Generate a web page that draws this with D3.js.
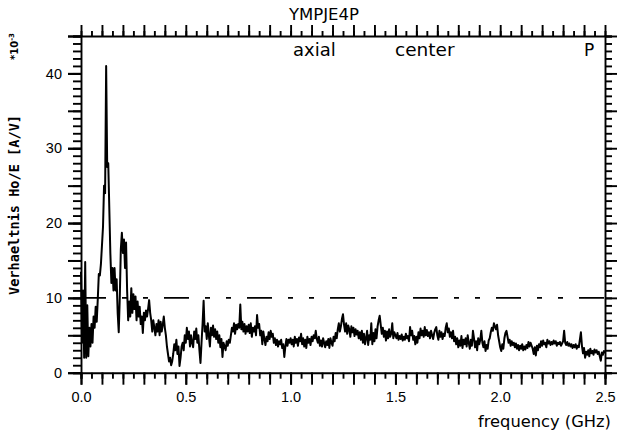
<!DOCTYPE html>
<html><head><meta charset="utf-8">
<script src="https://cdn.jsdelivr.net/npm/d3@7"></script>
<style>
html,body{margin:0;padding:0;background:#fff;}
svg{display:block;}
</style></head>
<body>
<svg id="chart" width="624" height="433"></svg>
<script>
// ---- data ----
const title = "YMPJE4P";
const annotations = ["axial", "center", "P"];
const xLabel = "frequency (GHz)";
const yLabel = "Verhaeltnis Ho/E [A/V]";
const yScaleNote = "*10";
const yScaleExp = "-3";
const xTickLabels = [0.0, 0.5, 1.0, 1.5, 2.0, 2.5];
const yTickLabels = [0, 10, 20, 30, 40];
const xDomain = [0, 2.5];
const yDomain = [0, 45];
const refLevel = 10;
const freqStart = 0.0;
const freqStep = 0.005; // GHz between samples
// Ho/E ratio (x10^-3 A/V), one value per 0.005 GHz, 0.000 .. 2.500
const ratio = [
 13.5, 4.0, 11.0, 2.0, 14.8, 2.0, 9.0, 2.2, 6.0, 3.5, 6.5, 4.0, 7.5, 6.0, 8.8, 6.8, 9.8, 13.2, 13.0, 14.5,
 17.0, 19.5, 25.0, 24.0, 41.0, 27.5, 28.0, 22.0, 16.0, 12.0, 14.0, 11.0, 14.0, 11.0, 12.5, 8.0, 5.4, 10.0, 16.5, 18.7,
 16.0, 17.8, 14.0, 17.4, 11.0, 7.0, 9.5, 7.5, 11.3, 8.0, 10.5, 8.5, 10.2, 7.0, 9.5, 7.5, 8.8, 6.5, 7.5, 5.3,
 8.0, 7.0, 8.3, 7.5, 8.5, 9.7, 8.0, 7.0, 5.5, 7.0, 6.0, 5.0, 6.5, 5.5, 7.0, 5.0, 6.8, 5.5, 6.4, 7.5,
 6.0, 5.0, 3.5, 2.5, 1.5, 2.0, 1.0, 1.5, 2.5, 3.8, 3.0, 4.4, 2.5, 3.5, 0.9, 2.0, 3.5, 4.0, 3.0, 5.0,
 4.0, 6.0, 4.5, 5.5, 3.5, 5.0, 4.0, 3.4, 5.5, 4.5, 5.9, 4.0, 5.0, 3.0, 1.3, 4.0, 6.5, 9.6, 5.5, 6.2,
 4.5, 6.6, 5.0, 3.5, 6.0, 5.0, 6.3, 4.8, 5.8, 4.5, 5.5, 4.0, 5.0, 3.4, 4.5, 2.1, 4.0, 3.5, 3.0, 4.2,
 3.6, 4.4, 4.0, 5.0, 6.0, 5.5, 6.6, 5.2, 6.4, 5.8, 6.5, 6.0, 9.1, 5.8, 6.8, 5.5, 6.5, 5.2, 6.2, 5.5,
 6.4, 5.3, 6.6, 4.8, 6.0, 5.5, 6.2, 5.0, 7.7, 6.0, 6.5, 5.0, 5.6, 3.8, 5.5, 4.5, 3.7, 4.8, 4.2, 5.4,
 4.5, 5.6, 4.8, 5.2, 4.0, 4.6, 3.7, 4.4, 3.5, 4.2, 3.8, 4.4, 3.3, 3.8, 2.1, 3.5, 4.5, 3.6, 4.4, 4.0,
 4.6, 3.8, 4.4, 3.5, 4.8, 4.0, 4.5, 3.6, 4.7, 4.2, 5.2, 3.8, 4.6, 3.5, 4.4, 3.3, 4.8, 4.0, 4.5, 3.7,
 4.8, 4.2, 5.0, 4.6, 5.6, 4.5, 4.0, 4.8, 3.6, 4.3, 3.5, 4.6, 4.0, 3.4, 4.2, 3.7, 4.5, 3.3, 4.6, 4.0,
 3.6, 4.8, 4.2, 5.3, 4.6, 5.8, 6.6, 5.5, 6.2, 7.2, 7.8, 6.4, 5.5, 6.6, 5.2, 6.3, 5.8, 4.8, 6.2, 5.4,
 6.0, 4.9, 5.8, 5.1, 5.6, 4.6, 5.4, 4.4, 5.6, 4.0, 5.2, 3.8, 4.6, 5.6, 3.7, 5.0, 4.4, 6.6, 3.8, 5.3,
 4.2, 5.8, 4.6, 6.2, 7.0, 7.6, 6.4, 5.2, 6.0, 4.8, 5.6, 4.3, 5.5, 4.6, 5.8, 4.8, 5.2, 6.6, 4.6, 5.4,
 5.0, 4.6, 5.3, 4.4, 4.9, 4.5, 5.1, 4.3, 4.8, 4.4, 5.2, 4.6, 4.9, 4.2, 6.1, 5.0, 5.6, 4.4, 4.9, 3.8,
 4.8, 4.0, 5.4, 4.6, 5.9, 5.0, 5.6, 4.8, 6.1, 5.0, 5.7, 4.9, 5.4, 4.6, 5.6, 5.0, 4.5, 5.3, 5.8, 6.1,
 5.0, 4.4, 5.6, 4.8, 5.4, 4.5, 5.2, 4.9, 6.0, 6.6, 5.4, 5.9, 4.8, 5.4, 4.6, 5.6, 4.2, 4.8, 3.8, 4.6,
 3.4, 4.3, 3.6, 4.9, 3.3, 4.4, 3.8, 4.6, 3.5, 5.0, 4.0, 3.2, 4.4, 3.6, 5.6, 4.6, 3.4, 4.2, 3.0, 4.6,
 3.8, 4.4, 5.6, 4.0, 3.4, 4.2, 2.9, 3.7, 3.2, 4.3, 4.6, 5.4, 6.0, 5.6, 6.6, 6.2, 5.8, 6.4, 5.0, 4.2,
 3.4, 2.9, 3.8, 3.2, 4.6, 5.3, 5.6, 4.8, 4.0, 4.4, 3.6, 4.2, 3.7, 4.0, 3.4, 3.9, 3.2, 3.7, 3.0, 3.6,
 3.2, 3.8, 3.0, 3.5, 3.1, 3.7, 3.3, 4.1, 3.5, 4.0, 3.6, 3.2, 2.5, 3.4, 2.3, 3.6, 3.0, 3.8, 3.4, 4.2,
 3.6, 4.3, 3.8, 4.0, 3.4, 4.4, 3.9, 4.2, 3.7, 4.1, 3.8, 4.3, 3.9, 4.2, 3.6, 4.0, 3.8, 4.1, 3.6, 3.9,
 4.2, 5.6, 4.0, 3.7, 4.1, 3.6, 3.9, 3.5, 3.8, 3.3, 3.7, 3.4, 3.8, 3.2, 3.6, 3.4, 4.4, 5.4, 3.6, 2.6,
 3.3, 2.0, 2.8, 2.4, 3.0, 2.2, 3.2, 2.6, 2.9, 2.4, 3.1, 2.7, 3.0, 2.5, 2.8, 2.2, 1.6, 2.7, 2.4, 2.9,
 2.6
];

// ---- drawing ----
const svg = d3.select("#chart");
const x = d3.scaleLinear().domain(xDomain).range([81, 605]);
const y = d3.scaleLinear().domain(yDomain).range([372.7, 36]);
const ink = "#000";
const tickFont = "'Liberation Sans', Arial, sans-serif";
const wideFont = "'DejaVu Sans', sans-serif";
const axisW = 1.9;

function styleAxis(g, w) {
  g.select(".domain").attr("stroke", ink).attr("stroke-width", w);
  g.selectAll(".tick line").attr("stroke", ink).attr("stroke-width", w);
}

// tick positions
const xMinor = d3.range(0, 2.5001, 0.05).map(v => +v.toFixed(3));
const xMajor = d3.range(0, 2.5001, 0.1).map(v => +v.toFixed(3));
const yMinor = d3.range(0, 45.001, 1);
const yMajor = d3.range(0, 45.001, 5);

// bottom axis
svg.append("g").attr("transform", `translate(0,${y(0)})`)
  .call(d3.axisBottom(x).tickValues(xMinor).tickSize(6).tickFormat(""))
  .call(g => styleAxis(g, axisW));
svg.append("g").attr("transform", `translate(0,${y(0)})`)
  .call(d3.axisBottom(x).tickValues(xMajor).tickSize(12).tickFormat(""))
  .call(g => { g.select(".domain").remove(); g.selectAll(".tick line").attr("stroke", ink).attr("stroke-width", axisW); });
svg.append("g").attr("transform", `translate(0,${y(0)})`)
  .call(d3.axisBottom(x).tickValues(xTickLabels).tickSize(12).tickPadding(7).tickFormat(d3.format(".1f")))
  .call(g => { g.select(".domain").remove(); g.selectAll(".tick line").attr("stroke", ink).attr("stroke-width", axisW);
    g.selectAll("text").attr("fill", ink).attr("font-family", tickFont).attr("font-size", 14.5); });

// top axis
svg.append("g").attr("transform", `translate(0,${y(45)})`)
  .call(d3.axisTop(x).tickValues(xMinor).tickSize(5).tickFormat(""))
  .call(g => { styleAxis(g, axisW); g.select(".domain").attr("d", `M68,0.5H${x(2.5)}`); });
svg.append("g").attr("transform", `translate(0,${y(45)})`)
  .call(d3.axisTop(x).tickValues(xMajor).tickSize(11).tickFormat(""))
  .call(g => { g.select(".domain").remove(); g.selectAll(".tick line").attr("stroke", ink).attr("stroke-width", axisW); });

// left axis
svg.append("g").attr("transform", `translate(${x(0)},0)`)
  .call(d3.axisLeft(y).tickValues(yMinor).tickSize(8).tickFormat(""))
  .call(g => styleAxis(g, axisW));
svg.append("g").attr("transform", `translate(${x(0)},0)`)
  .call(d3.axisLeft(y).tickValues(yMajor).tickSize(13).tickFormat(""))
  .call(g => { g.select(".domain").remove(); g.selectAll(".tick line").attr("stroke", ink).attr("stroke-width", 2); });
svg.append("g").attr("transform", `translate(${x(0)},0)`)
  .call(d3.axisLeft(y).tickValues(yTickLabels).tickSize(13).tickPadding(6).tickFormat(d3.format("d")))
  .call(g => { g.select(".domain").remove(); g.selectAll(".tick line").attr("stroke", ink).attr("stroke-width", 2);
    g.selectAll("text").attr("fill", ink).attr("font-family", tickFont).attr("font-size", 14.5); });

// right axis
svg.append("g").attr("transform", `translate(${x(2.5)},0)`)
  .call(d3.axisRight(y).tickValues(yMinor).tickSize(7).tickFormat(""))
  .call(g => styleAxis(g, axisW));
svg.append("g").attr("transform", `translate(${x(2.5)},0)`)
  .call(d3.axisRight(y).tickValues(yMajor).tickSize(12).tickFormat(""))
  .call(g => { g.select(".domain").remove(); g.selectAll(".tick line").attr("stroke", ink).attr("stroke-width", axisW); });

// reference level dash-dot line
svg.append("line")
  .attr("x1", x(xDomain[0])).attr("x2", x(xDomain[1]))
  .attr("y1", y(refLevel)).attr("y2", y(refLevel))
  .attr("stroke", ink).attr("stroke-width", 1.7)
  .attr("stroke-dasharray", "25,16,5,16,5,16");

// data trace
const line = d3.line()
  .x((d, i) => x(freqStart + i * freqStep))
  .y(d => y(d));
svg.append("path")
  .datum(ratio)
  .attr("d", line)
  .attr("fill", "none")
  .attr("stroke", ink)
  .attr("stroke-width", 2)
  .attr("stroke-linejoin", "round");

// title & annotations
svg.append("text").text(title)
  .attr("x", 324).attr("y", 20).attr("text-anchor", "middle")
  .attr("font-family", wideFont).attr("font-size", 16.5).attr("fill", ink);
svg.append("text").text(annotations[0])
  .attr("x", 293).attr("y", 56)
  .attr("font-family", wideFont).attr("font-size", 18).attr("fill", ink);
svg.append("text").text(annotations[1])
  .attr("x", 395).attr("y", 56)
  .attr("font-family", wideFont).attr("font-size", 18.5).attr("fill", ink);
svg.append("text").text(annotations[2])
  .attr("x", 584).attr("y", 56)
  .attr("font-family", wideFont).attr("font-size", 17).attr("fill", ink);

// x-axis title
svg.append("text").text(xLabel)
  .attr("x", 478).attr("y", 427)
  .attr("font-family", wideFont).attr("font-size", 16.3).attr("fill", ink);

// y-axis title (rotated)
svg.append("text").text(yLabel)
  .attr("transform", "translate(19,205) rotate(-90)")
  .attr("text-anchor", "middle")
  .attr("font-family", "'DejaVu Sans Mono', monospace").attr("font-weight", "bold")
  .attr("font-size", 13.5)
  .attr("textLength", 180).attr("lengthAdjust", "spacingAndGlyphs")
  .attr("fill", ink);

// scale note
const note = svg.append("text")
  .attr("transform", "translate(18,60) rotate(-90)")
  .attr("font-family", "'DejaVu Sans', sans-serif").attr("font-weight", "bold")
  .attr("font-size", 10).attr("fill", ink);
note.append("tspan").text(yScaleNote);
note.append("tspan").text(yScaleExp).attr("font-size", 7).attr("dy", -4);
</script>
</body></html>
